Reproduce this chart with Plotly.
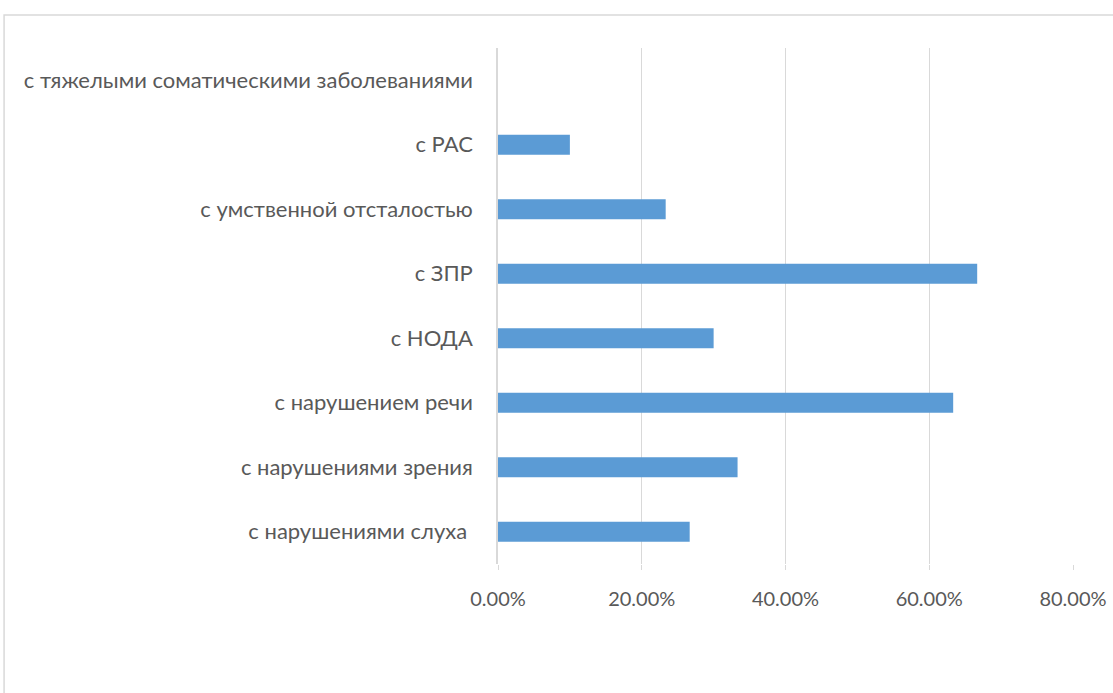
import plotly.graph_objects as go

# categories bottom -> top
categories = [
    "с нарушениями слуха ",
    "с нарушениями зрения",
    "с нарушением речи",
    "с НОДА",
    "с ЗПР",
    "с умственной отсталостью",
    "с РАС",
    "с тяжелыми соматическими заболеваниями",
]
shares = [0.2667, 0.3333, 0.6333, 0.30, 0.6667, 0.2333, 0.10, 0.0]
x_ticks = [0, 0.2, 0.4, 0.6, 0.8]

BAR = "#5B9BD5"
GRID = "#D9D9D9"
TXT = "#595959"
FONT = "Lato"

fig = go.Figure(go.Bar(
    x=shares, y=categories,
    orientation="h",
    marker=dict(color=BAR, line=dict(width=0)),
    width=0.31,
    hovertemplate="%{y}: %{x:.2%}<extra></extra>",
))

# outer chart frame (cropped Excel-style border)
fig.add_shape(
    type="rect", xref="paper", yref="paper",
    x0=-0.859, x1=1.1, y0=-0.3, y1=1.064,
    line=dict(color=GRID, width=1.5), fillcolor="rgba(0,0,0,0)",
    layer="below",
)

fig.update_layout(
    width=1113, height=693,
    margin=dict(l=498, r=40, t=48, b=129),
    paper_bgcolor="white", plot_bgcolor="white",
    font=dict(family=FONT, size=20, color=TXT),
    showlegend=False,
)
fig.update_xaxes(
    range=[0, 0.8], tickvals=x_ticks, tickformat=".2%",
    showgrid=True, gridcolor=GRID, gridwidth=1,
    zeroline=False, showline=False,
    ticks="outside", ticklen=5, tickcolor=GRID,
    tickfont=dict(size=20),
    ticklabelstandoff=12, automargin=False,
)
fig.update_yaxes(
    showgrid=False, zeroline=False,
    showline=True, linecolor=GRID, linewidth=1.5,
    ticks="", tickfont=dict(size=22), ticklabelstandoff=19,
    automargin=False,
)

# drop the default 8px page margin so the figure sits at the window corner
fig.write_html(
    "out.html",
    config={"displayModeBar": False},
    post_script="document.body.style.margin='0';",
)
